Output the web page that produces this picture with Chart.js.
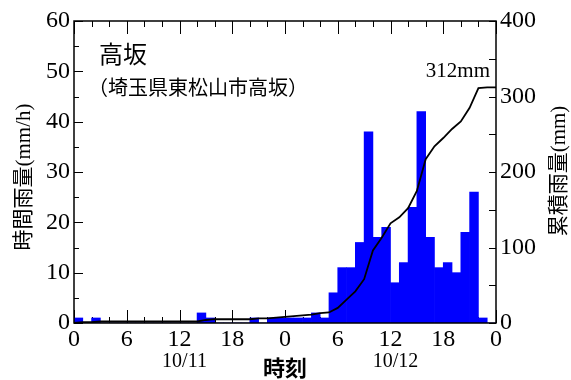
<!DOCTYPE html>
<html>
<head>
<meta charset="utf-8">
<script src="https://cdn.jsdelivr.net/npm/chart.js@4.4.1/dist/chart.umd.min.js"></script>
<style>
  html, body { margin: 0; padding: 0; background: #fff; }
  #rain-chart { display: block; }
</style>
</head>
<body>
<canvas id="rain-chart" width="571" height="380"></canvas>
<script>
// Rain data (Takasaka, 10/11 0h - 10/12 24h)

// hourly rain (mm/h), one value per hour
const hourlyRain = [
    // 10/11
    1, 0, 1, 0, 0, 0, 0, 0, 0, 0, 0, 0, 0, 0, 2, 1, 0, 0, 0, 0, 1, 0, 1, 1,
    // 10/12
    1, 1, 1, 2, 1, 6, 11, 11, 16, 38, 17, 19, 8, 12, 23, 42, 17, 11, 12, 10, 18, 26, 1, 0,
];

// cumulative rain (mm) at each hour mark 0..48
const cumulativeRain = [
    0, 1, 1, 2, 2, 2, 2, 2, 2, 2, 2, 2, 2, 2, 2, 4, 5, 5, 5, 5, 5, 6, 6, 7,
    8, 9, 10, 11, 13, 14, 20, 31, 42, 58, 96, 113, 132, 140, 152, 175, 217, 234, 245, 257, 267, 285, 311, 312, 312,
];

const dayLabels = ['10/11', '10/12'];
const stationName = '高坂';
const stationPlace = '（埼玉県東松山市高坂）';
const totalLabel = '312mm';

const serif = "'Liberation Serif', 'Times New Roman', 'Noto Sans CJK JP'";
const gothic = "'Noto Sans CJK JP'";

// Ticks, frame and texts
const decorations = {
    id: 'decorations',
    beforeDatasetsDraw(chart) {
        const ctx = chart.ctx;
        const area = chart.chartArea;
        const x = chart.scales.x, y = chart.scales.y, y2 = chart.scales.y2;
        ctx.save();
        ctx.strokeStyle = '#000';
        ctx.lineWidth = 1;
        ctx.beginPath();
        for (let v = 0; v <= 48; v += 2) {
            const px = Math.round(x.getPixelForValue(v)) + 0.5;
            const len = v % 6 === 0 ? 13 : 6;
            ctx.moveTo(px, area.bottom); ctx.lineTo(px, area.bottom - len);
            ctx.moveTo(px, area.top); ctx.lineTo(px, area.top + len);
        }
        for (let v = 0; v <= 60; v += 5) {
            const py = Math.round(y.getPixelForValue(v)) + 0.5;
            const len = v % 10 === 0 ? 9 : 5;
            ctx.moveTo(area.left, py); ctx.lineTo(area.left + len, py);
        }
        for (let v = 0; v <= 400; v += 50) {
            const py = Math.round(y2.getPixelForValue(v)) + 0.5;
            ctx.moveTo(area.right, py); ctx.lineTo(area.right - 7, py);
        }
        ctx.stroke();
        ctx.restore();
    },
    afterDraw(chart) {
        const ctx = chart.ctx;
        const area = chart.chartArea;
        const x = chart.scales.x;
        ctx.save();
        ctx.strokeStyle = '#000';
        ctx.lineWidth = 1.5;
        ctx.strokeRect(area.left, area.top, area.right - area.left, area.bottom - area.top);

        ctx.fillStyle = '#000';
        ctx.textBaseline = 'middle';

        // station name
        ctx.textAlign = 'left';
        ctx.font = '24px ' + gothic;
        ctx.fillText(stationName, 99, 54);
        ctx.font = '20px ' + gothic;
        ctx.fillText(stationPlace, 88, 87);

        // total
        ctx.textAlign = 'right';
        ctx.textBaseline = 'alphabetic';
        ctx.font = '21px ' + serif;
        ctx.fillText(totalLabel, 490, 77);

        // dates and x title
        ctx.textAlign = 'center';
        ctx.textBaseline = 'middle';
        ctx.font = '20px ' + serif;
        ctx.fillText(dayLabels[0], x.getPixelForValue(12) + 5, 362);
        ctx.fillText(dayLabels[1], x.getPixelForValue(36) + 5, 362);
        ctx.font = 'bold 22px ' + gothic;
        ctx.fillText('時刻', x.getPixelForValue(24), 368);

        // y titles (both read bottom to top)
        ctx.font = '21px ' + serif;
        ctx.translate(24, 177);
        ctx.rotate(-Math.PI / 2);
        ctx.fillText('時間雨量(mm/h)', 0, 0);
        ctx.restore();

        ctx.save();
        ctx.fillStyle = '#000';
        ctx.textAlign = 'center';
        ctx.textBaseline = 'middle';
        ctx.font = '21px ' + serif;
        ctx.translate(559, 171);
        ctx.rotate(-Math.PI / 2);
        ctx.fillText('累積雨量(mm)', 0, 0);
        ctx.restore();
    },
};

// Chart.js Setup
const rainChartCtx = document.getElementById('rain-chart').getContext('2d');
const tickFont = { family: serif, size: 24 };

new Chart(rainChartCtx, {
    data: {
        datasets: [{
            type: 'line',
            label: '累積雨量',
            data: cumulativeRain.map((v, i) => ({ x: i, y: v })),
            yAxisID: 'y2',
            borderColor: '#000',
            borderWidth: 1.8,
            pointRadius: 0,
            tension: 0,
            order: 0,
        }, {
            type: 'bar',
            label: '時間雨量',
            data: hourlyRain.map((v, i) => ({ x: i + 0.5, y: v })),
            yAxisID: 'y',
            backgroundColor: '#0000ff',
            borderWidth: 0,
            barPercentage: 1,
            categoryPercentage: 1,
            order: 1,
        }],
    },
    plugins: [decorations],
    options: {
        responsive: false,
        animation: false,
        layout: { padding: { top: 21, left: 0, right: 0, bottom: 0 } },
        plugins: { legend: { display: false }, tooltip: { enabled: false } },
        scales: {
            x: {
                type: 'linear',
                offset: false,
                min: 0,
                max: 48,
                grid: { display: false, drawTicks: false, offset: false },
                border: { display: false },
                ticks: {
                    stepSize: 6,
                    autoSkip: false,
                    maxRotation: 0,
                    padding: 2,
                    color: '#000',
                    font: tickFont,
                    callback: (v) => v % 24,
                },
                afterFit: (scale) => { scale.height = 57; },
            },
            y: {
                position: 'left',
                min: 0,
                max: 60,
                grid: { display: false, drawTicks: false },
                border: { display: false },
                ticks: { stepSize: 10, padding: 4, color: '#000', font: tickFont },
                afterFit: (scale) => { scale.width = 74; },
            },
            y2: {
                position: 'right',
                min: 0,
                max: 400,
                grid: { display: false, drawTicks: false },
                border: { display: false },
                ticks: { stepSize: 100, padding: 4, color: '#000', font: tickFont },
                afterFit: (scale) => { scale.width = 75; },
            },
        },
    },
});
</script>
</body>
</html>
